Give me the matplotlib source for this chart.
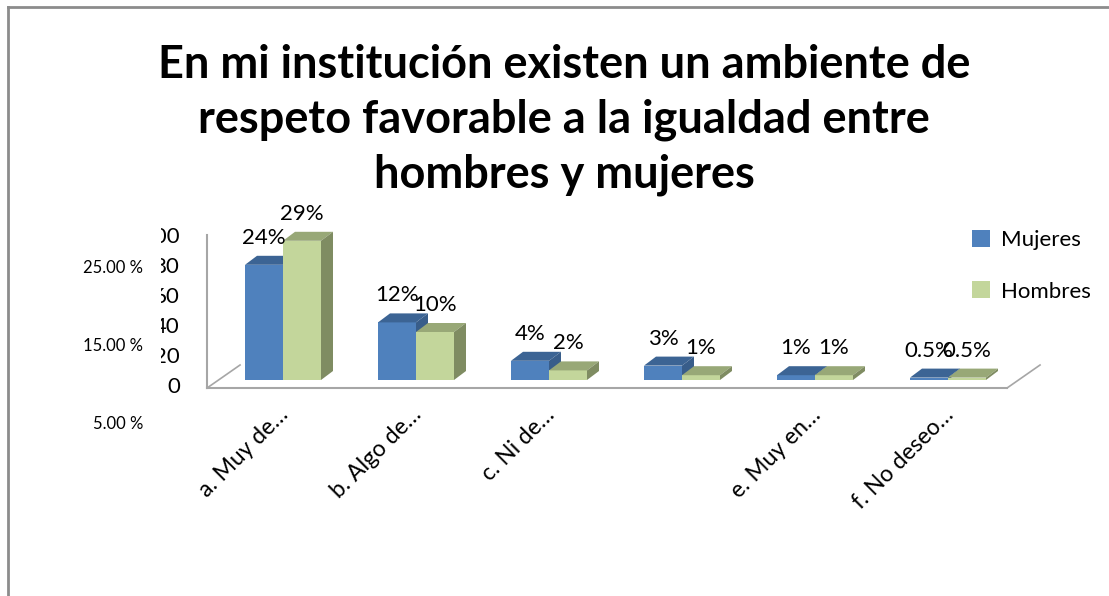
import matplotlib
matplotlib.use("Agg")
import matplotlib.pyplot as plt
from matplotlib.patches import Polygon, Patch
from matplotlib.lines import Line2D

# data
categorias = ["a. Muy de…", "b. Algo de…", "c. Ni de…", "", "e. Muy en…", "f. No deseo…"]
mujeres = [24, 12, 4, 3, 1, 0.5]
hombres = [29, 10, 2, 1, 1, 0.5]
etiq_mujeres = ["24%", "12%", "4%", "3%", "1%", "0.5%"]
etiq_hombres = ["29%", "10%", "2%", "1%", "1%", "0.5%"]
eje_viejo = [0, 20, 40, 60, 80, 100]
eje_pct = [25, 15, 5]

W, H = 1109, 596
plt.rcParams['font.family'] = ['Lato', 'DejaVu Sans']

fig = plt.figure(figsize=(W / 100, H / 100), dpi=100)


def fx(px):
    return px / W


def fy(py):
    return 1 - py / H


# frame of the chart area (only left and top visible)
fig.add_artist(Line2D([fx(8), fx(8)], [fy(7), 0], color="#8c8c8c", lw=2))
fig.add_artist(Line2D([fx(8), 1], [fy(7), fy(7)], color="#8c8c8c", lw=2))

fig.text(fx(564), fy(120),
         "En mi institución existen un ambiente de\nrespeto favorable a la igualdad entre\nhombres y mujeres",
         ha="center", va="center", fontsize=32.5, fontweight="bold", linespacing=1.38)

# main axes: x in category units, y in percent
x0, x1, y0, y1 = 150, 1060, 200, 400
ax = fig.add_axes([fx(x0), fy(y1), fx(x1) - fx(x0), fy(y0) - fy(y1)])
ax.set_xlim((x0 - 283) / 133, (x1 - 283) / 133)
ax.set_ylim((380 - y1) / 4.8, (380 - y0) / 4.8)
ax.axis("off")

w = 38 / 133      # bar width
dx = 12 / 133     # depth offset
dy = 9 / 4.8

azul = ("#4F81BD", "#3C6494", "#385D8A")
verde = ("#C3D69B", "#98A877", "#7F8C62")

# floor / axis lines
gris = "#a6a6a6"
fl, fr, bl, br = -0.571, 5.444, -0.323, 5.692
yf, yb = -1.667, 3.125
ax.plot([fl, fl], [yf, 30.2], color=gris, lw=1.5)
ax.plot([fl, fr], [yf, yf], color=gris, lw=1.5)
ax.plot([fl, bl], [yf, yb], color=gris, lw=1.2)
ax.plot([fr, br], [yf, yb], color=gris, lw=1.2)


def barra(x, v, cols):
    front, top, side = cols
    ax.add_patch(Polygon([(x, 0), (x + w, 0), (x + w, v), (x, v)], closed=True,
                         facecolor=front, edgecolor="none"))
    ax.add_patch(Polygon([(x, v), (x + w, v), (x + w + dx, v + dy), (x + dx, v + dy)], closed=True,
                         facecolor=top, edgecolor="none"))
    ax.add_patch(Polygon([(x + w, 0), (x + w, v), (x + w + dx, v + dy), (x + w + dx, dy)], closed=True,
                         facecolor=side, edgecolor="none"))


for i in range(len(categorias)):
    barra(i - w, mujeres[i], azul)
    barra(i, hombres[i], verde)
    ax.annotate(etiq_mujeres[i], (i - w / 2, mujeres[i]), xytext=(0, 27), textcoords="offset pixels",
                ha="center", va="center", fontsize=16)
    ax.annotate(etiq_hombres[i], (i + w / 2, hombres[i]), xytext=(0, 27), textcoords="offset pixels",
                ha="center", va="center", fontsize=16)
    # category labels (rotated, ending just right of the pair centre)
    ax.text(i - 0.04, -5.0, categorias[i], rotation=45, rotation_mode="anchor",
            ha="right", va="top", fontsize=16.5)

# leftover axis labels (clipped)
axv = fig.add_axes([fx(161), fy(420), fx(200) - fx(161), fy(200) - fy(420)])
axv.set_xlim(161, 200)
axv.set_ylim(-(420 - 387) / 1.5, (387 - 200) / 1.5)
axv.axis("off")
for t in eje_viejo:
    axv.text(180, t, str(t), ha="right", va="center", fontsize=16, clip_on=True)

axp = fig.add_axes([fx(60), fy(450), fx(150) - fx(60), fy(220) - fy(450)])
axp.set_xlim(60, 150)
axp.set_ylim(25 - (450 - 268) / 7.8, 25 + (268 - 220) / 7.8)
axp.axis("off")
for t in eje_pct:
    axp.text(143, t, f"{t:.2f} %", ha="right", va="center", fontsize=12)

handles = [Patch(facecolor=azul[0]), Patch(facecolor=verde[0])]
fig.legend(handles, ["Mujeres", "Hombres"], loc="upper left", bbox_to_anchor=(fx(972), fy(230)),
           frameon=False, handlelength=0.8, handleheight=0.8, handletextpad=0.5,
           labelspacing=1.4, borderpad=0, borderaxespad=0, fontsize=16)

fig.savefig("out.png", dpi=100)
